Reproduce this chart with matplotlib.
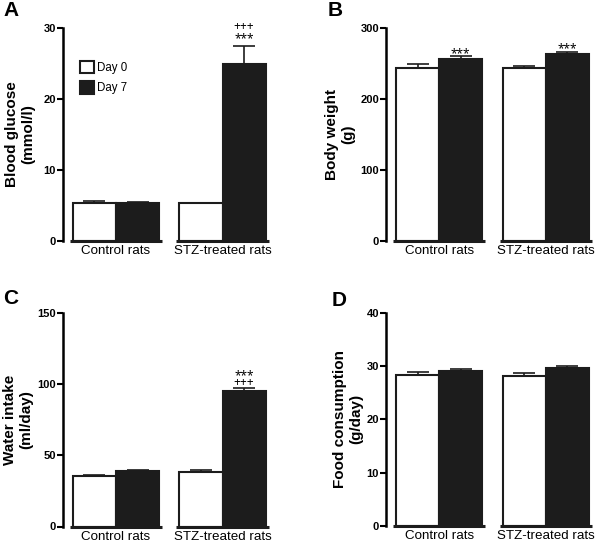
import matplotlib
matplotlib.use("Agg")
import matplotlib.pyplot as plt

plt.rcParams['font.family'] = ['Liberation Sans', 'DejaVu Sans']

groups = ["Control rats", "STZ-treated rats"]
series = ["Day 0", "Day 7"]

glucose_day0 = [5.4, 5.3]
glucose_day7 = [5.35, 24.9]
glucose_err0 = [0.2, 0.05]
glucose_err7 = [0.15, 2.6]

weight_day0 = [244, 244]
weight_day7 = [256, 263]
weight_err0 = [5, 3]
weight_err7 = [4, 2.5]

water_day0 = [35.2, 38.3]
water_day7 = [39.0, 94.9]
water_err0 = [0.7, 1.1]
water_err7 = [0.5, 2.6]

food_day0 = [28.4, 28.1]
food_day7 = [29.1, 29.6]
food_err0 = [0.5, 0.5]
food_err7 = [0.4, 0.4]

# annotations: (group index, text, last-line baseline offset above cap in px, linespacing)
panels = [
    dict(letter="A", ylabel="Blood glucose\n(mmol/l)", d0=glucose_day0, d7=glucose_day7,
         e0=glucose_err0, e7=glucose_err7, ymax=30, yticks=[0, 10, 20, 30],
         ann=[(1, "+++\n***", 4.0, 0.91)], legend=True, labx=-0.130),
    dict(letter="B", ylabel="Body weight\n(g)", d0=weight_day0, d7=weight_day7,
         e0=weight_err0, e7=weight_err7, ymax=300, yticks=[0, 100, 200, 300],
         ann=[(0, "***", -1.0, 1.0), (1, "***", 0.7, 1.0)], legend=False, labx=-0.146),
    dict(letter="C", ylabel="Water intake\n(ml/day)", d0=water_day0, d7=water_day7,
         e0=water_err0, e7=water_err7, ymax=150, yticks=[0, 50, 100, 150],
         ann=[(1, "***\n+++", 2.0, 0.36)], legend=False, labx=-0.140),
    dict(letter="D", ylabel="Food consumption\n(g/day)", d0=food_day0, d7=food_day7,
         e0=food_err0, e7=food_err7, ymax=40, yticks=[0, 10, 20, 30, 40],
         ann=[], legend=False, labx=-0.108),
]

W, H = 600, 543
fig = plt.figure(figsize=(W / 100, H / 100), dpi=100)

boxes = [(62.75, 28, 241), (386, 28, 241), (62.75, 313, 526.5), (386, 312.7, 526)]
letters_pos = [(3, 10), (328, 10), (3, 299), (332, 300)]
axw = 213
BLACK = '#1c1c1c'
bw = 0.404

for p, (lx, ty, by), (lpx, lpy) in zip(panels, boxes, letters_pos):
    ax = fig.add_axes([lx / W, 1 - by / H, axw / W, (by - ty) / H])
    x = list(range(len(groups)))
    x0 = [xi - bw / 2 for xi in x]
    x7 = [xi + bw / 2 for xi in x]
    ax.bar(x0, p["d0"], width=bw, color='white', edgecolor=BLACK, linewidth=1.5,
           label=series[0], zorder=2)
    ax.bar(x7, p["d7"], width=bw, color=BLACK, edgecolor=BLACK, linewidth=1.5,
           label=series[1], zorder=2)
    for xs, vals, errs in ((x0, p["d0"], p["e0"]), (x7, p["d7"], p["e7"])):
        ax.errorbar(xs, vals, yerr=[[0] * len(vals), errs], fmt='none', ecolor=BLACK,
                    elinewidth=1.2, capsize=8, capthick=1.2, zorder=1)
    ax.set_xlim(-0.5, 1.5)
    ax.set_ylim(0, p["ymax"])
    ax.set_yticks(p["yticks"])
    ax.set_xticks(x)
    ax.set_xticklabels(groups, fontsize=9.6)
    for sp in ("top", "right", "bottom"):
        ax.spines[sp].set_visible(False)
    ax.spines["left"].set_linewidth(1.8)
    ax.spines["left"].set_bounds(0, p["ymax"])
    ax.tick_params(axis='y', length=4, width=1.5, labelsize=8, pad=1)
    ax.tick_params(axis='x', length=0, pad=3)
    for lab in ax.get_yticklabels():
        lab.set_fontweight('bold')
    for xi in x:
        ax.plot([xi - bw - 0.03, xi + bw + 0.03], [0, 0], color=BLACK, lw=2.2,
                solid_capstyle='butt', clip_on=False, zorder=3)
    ax.set_ylabel(p["ylabel"], fontsize=11, fontweight='bold', linespacing=1.15)
    ax.yaxis.set_label_coords(p["labx"], 0.5)
    for gi, txt, off, ls in p["ann"]:
        top = p["d7"][gi] + p["e7"][gi]
        ax.annotate(txt, xy=(x7[gi], top), xytext=(0, off * 0.72),
                    textcoords='offset points', ha='center', va='baseline',
                    fontsize=8.5, family=['Noto Sans'], linespacing=ls)
    if p["legend"]:
        ax.legend(loc='upper left', bbox_to_anchor=(0.081, 0.845), frameon=False,
                  fontsize=8.3, handlelength=1.25, handleheight=1.25, handletextpad=0.25,
                  labelspacing=0.65, borderpad=0, borderaxespad=0)
    fig.text(lpx / W, 1 - lpy / H, p["letter"], fontsize=15,
             fontweight='bold', ha='left', va='center')

fig.savefig("out.png", dpi=100)
